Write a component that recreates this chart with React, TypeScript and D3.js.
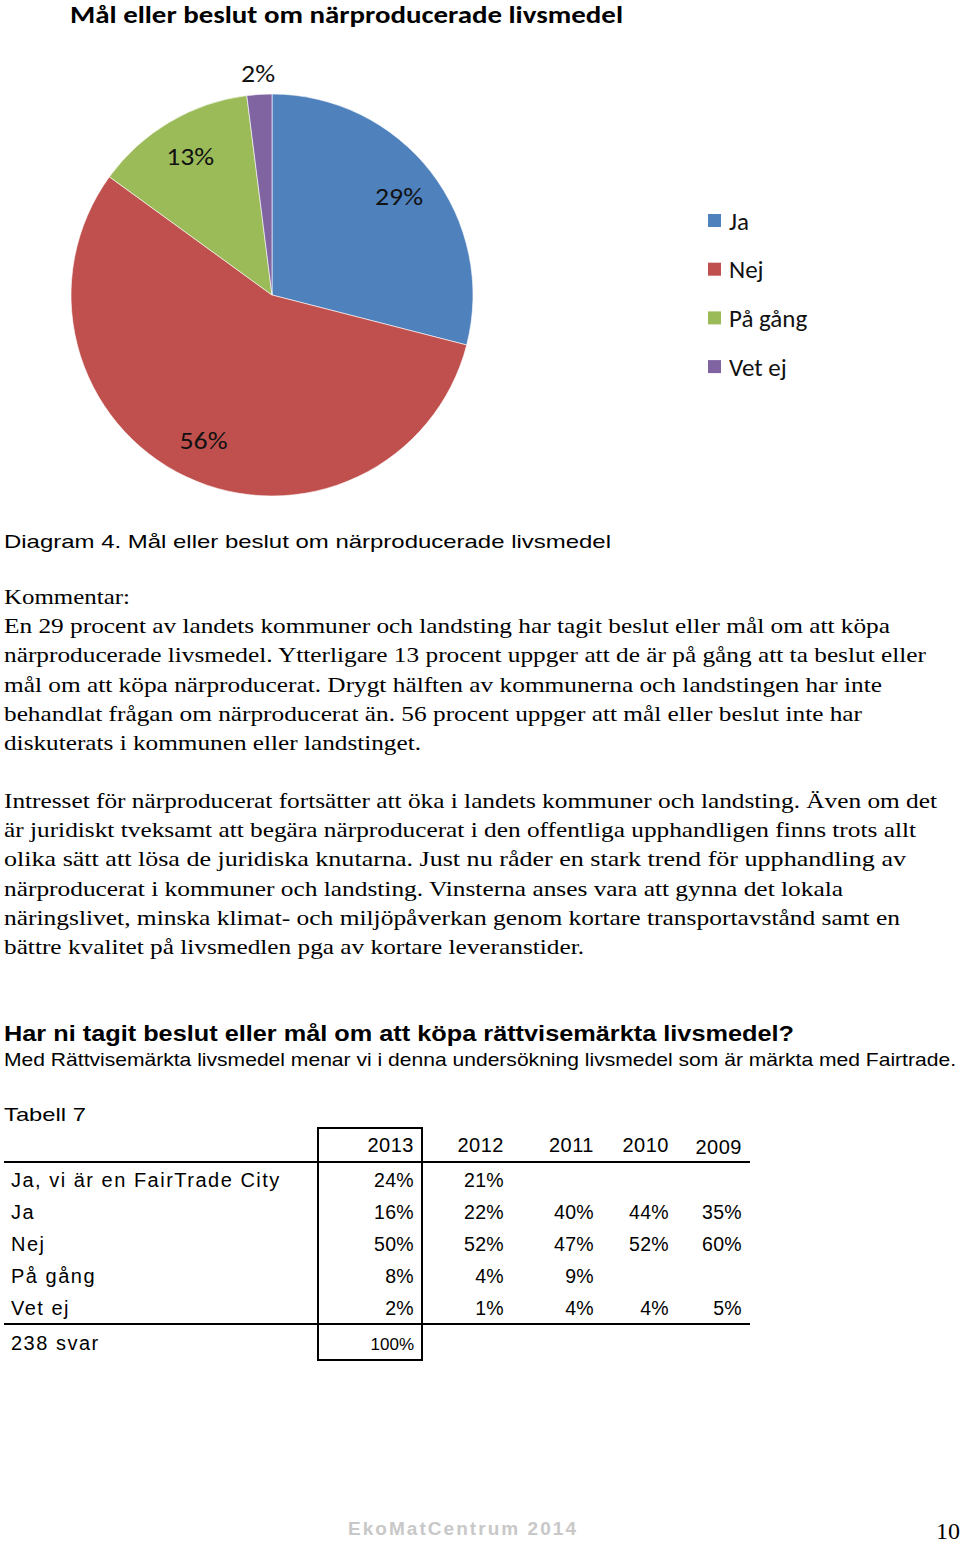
import React from "react";
import * as d3 from "d3";

const categories = ["Ja", "Nej", "På gång", "Vet ej"];
const values = [29, 56, 13, 2];
const colors = ["#4F81BD", "#C0504D", "#9BBB59", "#8064A2"];

const chartTitle = "Mål eller beslut om närproducerade livsmedel";
const caption = "Diagram 4. Mål eller beslut om närproducerade livsmedel";
const para1 = [
  "Kommentar:",
  "En 29 procent av landets kommuner och landsting har tagit beslut eller mål om att köpa",
  "närproducerade livsmedel. Ytterligare 13 procent uppger att de är på gång att ta beslut eller",
  "mål om att köpa närproducerat. Drygt hälften av kommunerna och landstingen har inte",
  "behandlat frågan om närproducerat än. 56 procent uppger att mål eller beslut inte har",
  "diskuterats i kommunen eller landstinget.",
];
const para1W = [126, 886, 922, 878, 858, 417];
const para2 = [
  "Intresset för närproducerat fortsätter att öka i landets kommuner och landsting. Även om det",
  "är juridiskt tveksamt att begära närproducerat i den offentliga upphandligen finns trots allt",
  "olika sätt att lösa de juridiska knutarna. Just nu råder en stark trend för upphandling av",
  "närproducerat i kommuner och landsting. Vinsterna anses vara att gynna det lokala",
  "näringslivet, minska klimat- och  miljöpåverkan genom kortare transportavstånd samt en",
  "bättre kvalitet på livsmedlen pga av kortare leveranstider.",
];
const para2W = [933, 912, 902, 839, 896, 580];

const heading = "Har ni tagit beslut eller mål om att köpa rättvisemärkta livsmedel?";
const subHeading = "Med Rättvisemärkta livsmedel menar vi i denna undersökning livsmedel som är märkta med Fairtrade.";
const tableTitle = "Tabell 7";
const years = ["2013", "2012", "2011", "2010", "2009"];
const rowLabels = ["Ja, vi är en FairTrade City", "Ja", "Nej", "På gång", "Vet ej"];
const tableValues = [
  ["24%", "21%", "", "", ""],
  ["16%", "22%", "40%", "44%", "35%"],
  ["50%", "52%", "47%", "52%", "60%"],
  ["8%", "4%", "9%", "", ""],
  ["2%", "1%", "4%", "4%", "5%"],
];
const totalLabel = "238 svar";
const totalValue = "100%";
const footer = "EkoMatCentrum 2014";
const pageNo = "10";

export default function App() {
  const cx = 272, cy = 295, R = 201;
  const pie = d3.pie<number>().sort(null).startAngle(0).endAngle(2 * Math.PI);
  const arcs = pie(values);
  const arc = d3.arc<d3.PieArcDatum<number>>().innerRadius(0).outerRadius(R);
  const inLabel = d3.arc<d3.PieArcDatum<number>>().innerRadius(R * 0.8).outerRadius(R * 0.8);
  const outLabel = d3.arc<d3.PieArcDatum<number>>().innerRadius(R + 21).outerRadius(R + 21);

  const colRight = d3.scaleOrdinal<string, number>().domain(years).range([414, 504, 594, 669, 742]);
  const rowY = d3.scaleLinear().domain([0, 4]).range([1180, 1308]);

  const calibri = "Carlito, 'Open Sans', 'Noto Sans', sans-serif";
  const arial = "'Liberation Sans', Arial, sans-serif";
  const serif = "'Liberation Serif', 'Times New Roman', serif";

  return (
    <svg width={960} height={1543} style={{ position: "absolute", left: 0, top: 0, background: "#fff" }}>
      <rect width={960} height={1543} fill="#fff" />
      <text x={70} y={23} fontFamily={calibri} fontWeight="bold" fontSize={24} textLength={553} lengthAdjust="spacingAndGlyphs" fill="#000">{chartTitle}</text>
      <g transform={`translate(${cx},${cy})`}>
        {arcs.map((a, i) => (
          <path key={i} d={arc(a) || ""} fill={colors[i]} stroke="#fff" strokeWidth={0.6} />
        ))}
        {arcs.map((a, i) => {
          const [x, y] = (a.data < 5 ? outLabel : inLabel).centroid(a);
          return (
            <text key={"l" + i} x={x} y={y} dy="0.35em" textAnchor="middle" fontFamily={calibri} fontSize={25} textLength={a.data < 10 ? 34 : 48} lengthAdjust="spacingAndGlyphs" fill="#111">{a.data + "%"}</text>
          );
        })}
      </g>
      {categories.map((c, i) => (
        <g key={c} transform={`translate(708,${221 + i * 48.7})`}>
          <rect x={0} y={-7} width={13} height={13} fill={colors[i]} />
          <text x={21} y={0} dy="0.35em" fontFamily={calibri} fontSize={25} fill="#111">{c}</text>
        </g>
      ))}

      <text x={4} y={548} fontFamily={arial} fontSize={19} textLength={607} lengthAdjust="spacingAndGlyphs" fill="#000">{caption}</text>
      {para1.map((t, i) => (
        <text key={"p1" + i} x={4} y={604 + i * 29.2} fontFamily={serif} fontSize={22} textLength={para1W[i]} lengthAdjust="spacingAndGlyphs" fill="#000">{t}</text>
      ))}
      {para2.map((t, i) => (
        <text key={"p2" + i} x={4} y={808 + i * 29.2} fontFamily={serif} fontSize={22} textLength={para2W[i]} lengthAdjust="spacingAndGlyphs" fill="#000">{t}</text>
      ))}

      <text x={4} y={1041} fontFamily={arial} fontWeight="bold" fontSize={22} textLength={790} lengthAdjust="spacingAndGlyphs" fill="#000">{heading}</text>
      <text x={4} y={1066} fontFamily={arial} fontSize={18.5} textLength={952} lengthAdjust="spacingAndGlyphs" fill="#000">{subHeading}</text>
      <text x={4} y={1121} fontFamily={arial} fontSize={19} textLength={82} lengthAdjust="spacingAndGlyphs" fill="#000">{tableTitle}</text>

      <rect x={318} y={1128} width={104} height={232} fill="none" stroke="#000" strokeWidth={2} />
      <line x1={4} x2={750} y1={1162} y2={1162} stroke="#000" strokeWidth={2} />
      <line x1={4} x2={750} y1={1324} y2={1324} stroke="#000" strokeWidth={2} />
      {years.map((y, i) => (
        <text key={y} x={colRight(y)} y={i === 4 ? 1154 : 1152} textAnchor="end" fontFamily={arial} fontSize={20} letterSpacing={0.5} fill="#000">{y}</text>
      ))}
      {rowLabels.map((l, r) => (
        <g key={l}>
          <text x={11} y={rowY(r) + 7} fontFamily={arial} fontSize={20} letterSpacing={1.5} fill="#000">{l}</text>
          {tableValues[r].map((v, c) => (
            <text key={c} x={colRight(years[c])} y={rowY(r) + 7} textAnchor="end" fontFamily={arial} fontSize={19.5} letterSpacing={0.3} fill="#000">{v}</text>
          ))}
        </g>
      ))}
      <text x={11} y={1350} fontFamily={arial} fontSize={20} letterSpacing={1.5} fill="#000">{totalLabel}</text>
      <text x={414} y={1350} textAnchor="end" fontFamily={arial} fontSize={17} fill="#000">{totalValue}</text>

      <text x={348} y={1535} fontFamily={arial} fontWeight="bold" fontSize={19} textLength={228} lengthAdjust="spacing" fill="#c8c8c8">{footer}</text>
      <text x={960} y={1539} textAnchor="end" fontFamily={serif} fontSize={24} fill="#000">{pageNo}</text>
    </svg>
  );
}
